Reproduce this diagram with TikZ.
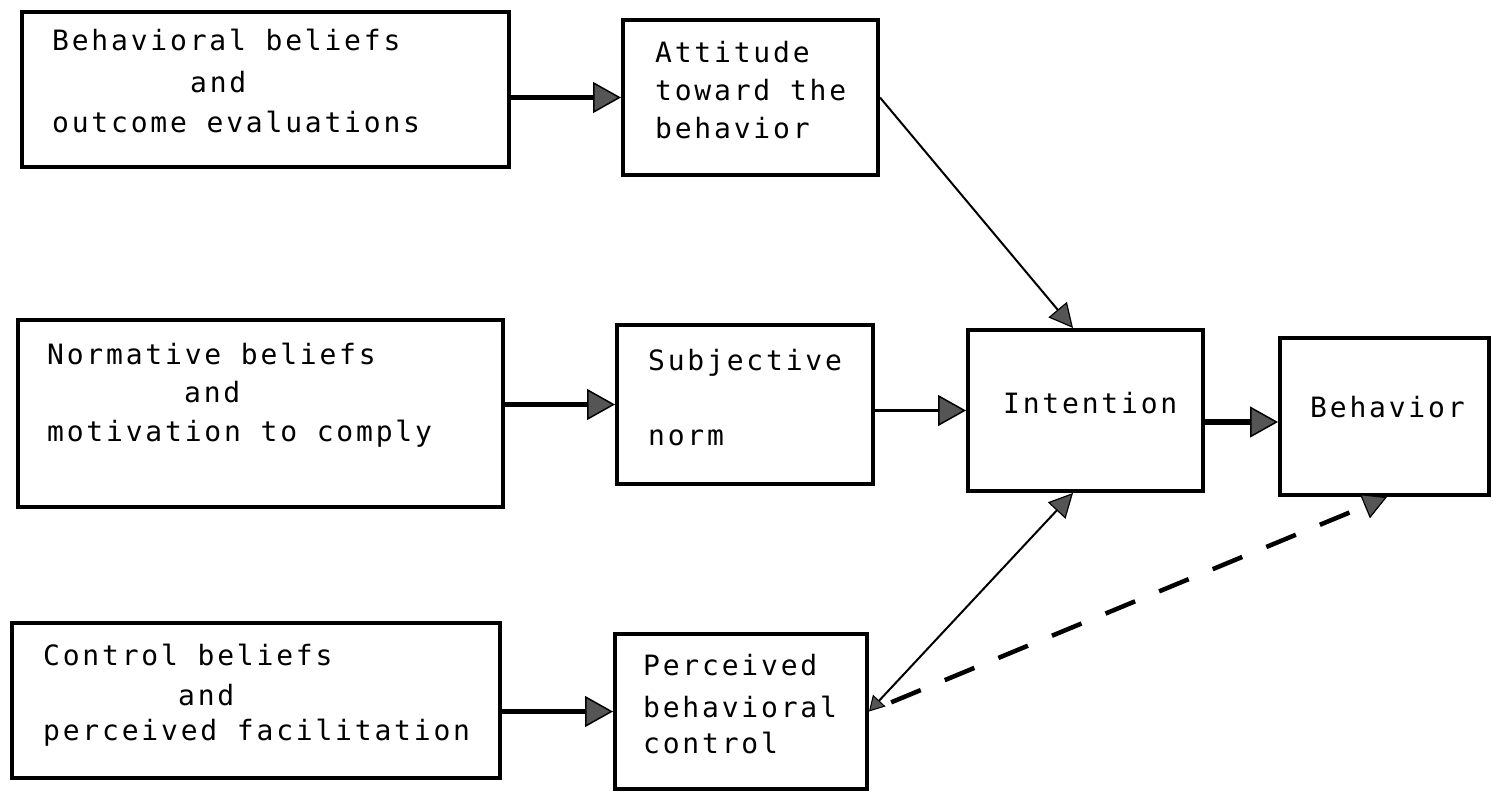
\documentclass[tikz,border=0pt]{standalone}
\usepackage{fontspec}
\usetikzlibrary{arrows.meta}
\newfontfamily\diagfont[LetterSpace=10]{DejaVu Sans Mono}
\definecolor{tipgray}{RGB}{85,85,85}
\begin{document}
\begin{tikzpicture}[x=1pt,y=-1pt,
  box/.style={draw=black, line width=4pt, rectangle, inner sep=0pt},
  txt/.style={anchor=base west, inner sep=0pt, font=\diagfont\fontsize{28pt}{40pt}\selectfont},
  bigtip/.style={-{Triangle[length=28pt,width=31pt,line width=1.5pt,fill=tipgray]}},
  arrthick/.style={bigtip, line width=5pt},
  arrmid/.style={bigtip, line width=3.5pt},
  arrthin/.style={-{Triangle[length=24pt,width=24pt,line width=1.2pt,fill=tipgray]}, line width=2pt},
  arrboth/.style={{Triangle[length=15pt,width=17pt,line width=1pt,fill=tipgray]}-{Triangle[length=24pt,width=24pt,line width=1.2pt,fill=tipgray]}, line width=2pt},
  arrdash/.style={-{Triangle[length=24pt,width=26pt,line width=1.2pt,fill=tipgray]}, line width=4.5pt, dash pattern=on 32pt off 26pt}
]
\useasboundingbox (0,0) rectangle (1493,793);
\fill[white] (0,0) rectangle (1493,793);

% boxes
\node[box, minimum width=487pt, minimum height=155pt] (bb)  at (265.5,89.5) {};
\node[box, minimum width=255pt, minimum height=155pt] (att) at (750.5,97.5) {};
\node[box, minimum width=485pt, minimum height=187pt] (nb)  at (260.5,413.5) {};
\node[box, minimum width=256pt, minimum height=159pt] (sn)  at (745,404.5) {};
\node[box, minimum width=235pt, minimum height=161pt] (int) at (1085.5,410.5) {};
\node[box, minimum width=209pt, minimum height=157pt] (beh) at (1384.5,416.5) {};
\node[box, minimum width=488pt, minimum height=155pt] (cb)  at (256,700.5) {};
\node[box, minimum width=252pt, minimum height=155pt] (pbc) at (741,711.5) {};

% texts
\node[txt] (bb1) at (52,50) {Behavioral beliefs};
\node[txt] (bb2) at (190,92) {and};
\node[txt] (bb3) at (52,132) {outcome evaluations};

\node[txt] (at1) at (655,62) {Attitude};
\node[txt] (at2) at (655,100) {toward the};
\node[txt] (at3) at (655,138) {behavior};

\node[txt] (nb1) at (47,364) {Normative beliefs};
\node[txt] (nb2) at (184,402) {and};
\node[txt] (nb3) at (47,441) {motivation to comply};

\node[txt] (sn1) at (648,370) {Subjective};
\node[txt] (sn2) at (648,445) {norm};

\node[txt] (in1) at (1003,413) {Intention};
\node[txt] (be1) at (1310,417) {Behavior};

\node[txt] (cb1) at (43,665) {Control beliefs};
\node[txt] (cb2) at (178,705) {and};
\node[txt] (cb3) at (43,740) {perceived facilitation};

\node[txt] (pb1) at (643,675) {Perceived};
\node[txt] (pb2) at (643,717) {behavioral};
\node[txt] (pb3) at (643,753) {control};

% connectors
\draw[arrthick] (bb.east |- att.west) -- (att.west);
\draw[arrthick] (nb.east |- sn.west) -- (sn.west);
\draw[arrthick] (cb.east |- pbc.west) -- (pbc.west);
\draw[arrmid] (sn.east |- int.west) -- (int.west);
\draw[arrthick, line width=6.5pt] ([yshift=-5.5pt]int.east |- beh.west) -- ([yshift=-5.5pt]beh.west);
\draw[arrthin] (att.east) -- ([xshift=-12.5pt]int.north);
\draw[arrboth] (pbc.east) -- ([xshift=-12.5pt]int.south);
\draw[arrdash, shorten <=24pt] (pbc.east) -- ([xshift=2.5pt]beh.south);
\end{tikzpicture}
\end{document}
